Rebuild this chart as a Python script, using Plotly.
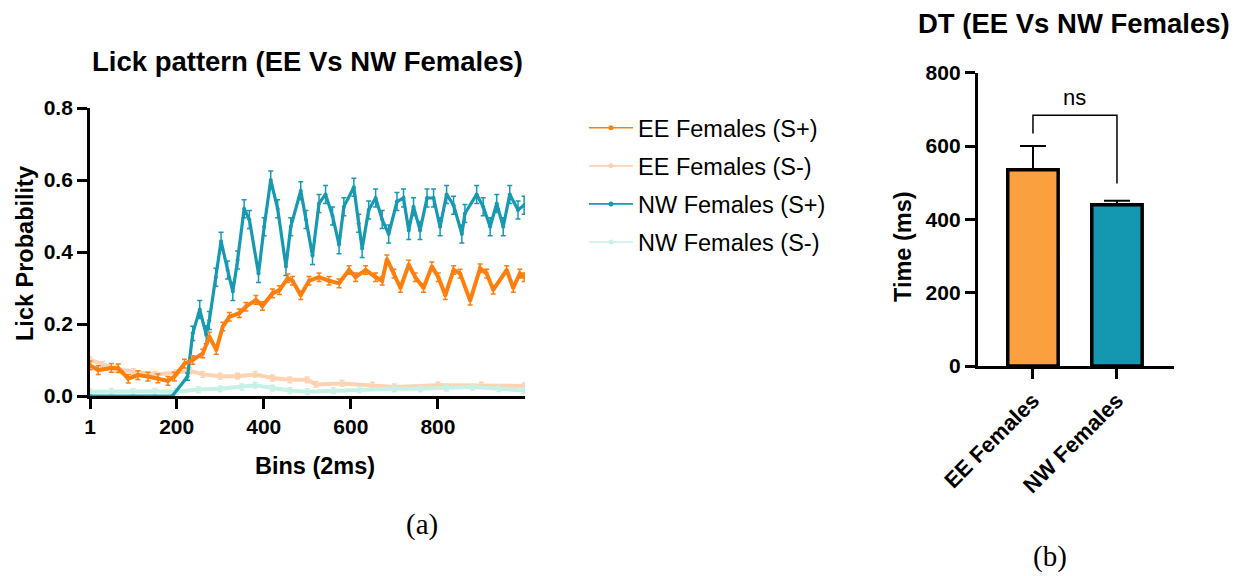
import plotly.graph_objects as go

# ---------------- data: lick pattern ----------------
ee_sp_bins = [1, 20, 50, 66, 89, 111, 134, 157, 180, 195, 218, 237, 260, 275, 291, 306, 321, 344, 359, 382,
              397, 420, 436, 455, 466, 485, 504, 527, 550, 573, 596, 611, 634, 657, 672, 683, 699, 714, 733,
              748, 767, 786, 801, 817, 836, 851, 874, 897, 912, 927, 958, 973, 988, 998]
ee_sp_vals = [0.085, 0.072, 0.078, 0.077, 0.048, 0.058, 0.054, 0.049, 0.042, 0.054, 0.09, 0.1, 0.118, 0.165,
              0.128, 0.193, 0.22, 0.23, 0.248, 0.267, 0.25, 0.285, 0.294, 0.327, 0.32, 0.28, 0.32, 0.33, 0.32,
              0.313, 0.35, 0.33, 0.35, 0.33, 0.32, 0.38, 0.34, 0.3, 0.365, 0.33, 0.3, 0.36, 0.33, 0.28, 0.35,
              0.34, 0.265, 0.355, 0.34, 0.295, 0.35, 0.3, 0.34, 0.33]
ee_sp_err = 0.012

ee_sm_bins = [1, 30, 60, 100, 150, 200, 230, 260, 300, 340, 380, 420, 460, 500, 520, 580, 650, 700, 800, 900, 998]
ee_sm_vals = [0.1, 0.088, 0.075, 0.068, 0.06, 0.065, 0.07, 0.06, 0.055, 0.055, 0.06, 0.05, 0.045, 0.045,
              0.032, 0.035, 0.03, 0.025, 0.03, 0.03, 0.028]
ee_sm_err = 0.008

nw_sp_bins = [1, 190, 225, 237, 253, 268, 275, 290, 302, 317, 329, 340, 355, 367, 388, 401, 416, 432, 451, 462,
              485, 497, 512, 527, 542, 558, 573, 584, 607, 618, 626, 641, 657, 672, 687, 706, 721, 733, 744,
              759, 775, 790, 805, 820, 836, 855, 862, 889, 904, 920, 935, 950, 965, 984, 998]
nw_sp_vals = [0.0, 0.0, 0.054, 0.174, 0.24, 0.17, 0.21, 0.33, 0.43, 0.35, 0.29, 0.378, 0.52, 0.49, 0.34, 0.47,
              0.6, 0.52, 0.36, 0.47, 0.57, 0.49, 0.39, 0.535, 0.56, 0.5, 0.42, 0.526, 0.58, 0.48, 0.41, 0.517,
              0.55, 0.49, 0.45, 0.54, 0.55, 0.46, 0.526, 0.46, 0.55, 0.55, 0.47, 0.56, 0.53, 0.45, 0.507, 0.56,
              0.526, 0.47, 0.535, 0.47, 0.56, 0.517, 0.53]
nw_sp_err = [0.0, 0.0, 0.01, 0.02, 0.025, 0.025, 0.025, 0.025, 0.025, 0.025, 0.025, 0.025, 0.025, 0.025,
             0.025, 0.025, 0.025, 0.025, 0.025, 0.025, 0.025, 0.025, 0.025, 0.025, 0.025, 0.025, 0.025, 0.025,
             0.025, 0.025, 0.025, 0.025, 0.025, 0.025, 0.025, 0.025, 0.025, 0.025, 0.025, 0.025, 0.025, 0.025,
             0.025, 0.025, 0.025, 0.025, 0.025, 0.025, 0.025, 0.025, 0.025, 0.025, 0.025, 0.025, 0.025]

nw_sm_bins = [1, 50, 100, 150, 200, 250, 300, 350, 380, 420, 460, 500, 560, 620, 700, 760, 820, 880, 940, 998]
nw_sm_vals = [0.012, 0.013, 0.012, 0.013, 0.012, 0.018, 0.02, 0.025, 0.03, 0.022, 0.015, 0.012, 0.015,
              0.018, 0.02, 0.02, 0.022, 0.025, 0.02, 0.015]
nw_sm_err = 0.008

series_names = ["EE Females (S+)", "EE Females (S-)", "NW Females (S+)", "NW Females (S-)"]

x_tickvals = [1, 200, 400, 600, 800]
y_tickvals = [0.0, 0.2, 0.4, 0.6, 0.8]
y_ticktext = ["0.0", "0.2", "0.4", "0.6", "0.8"]

# ---------------- data: DT bars ----------------
groups = ["EE Females", "NW Females"]
dt_means = [535, 440]
dt_sem = [65, 11]
dt_ticks = [0, 200, 400, 600, 800]
bracket_left, bracket_top, bracket_right = 634, 684, 498
sig_label = "ns"

C_EE_SP = "#FF7F0E"
C_EE_SM = "#FDD3B2"
C_NW_SP = "#1799B2"
C_NW_SM = "#C6F1E6"
SERIES_COLORS = [C_EE_SP, C_EE_SM, C_NW_SP, C_NW_SM]
BAR_COLORS = ["#FBA03E", "#1497B1"]

FONT = "Liberation Sans"
TICKFONT = dict(family=FONT, size=21, color="black", weight="bold")
TITLEFONT = dict(family=FONT, size=23.5, color="black", weight="bold")
HEADFONT = dict(family=FONT, size=27.5, color="black", weight="bold")

# the page body adds an 8px offset; the figure fills the rest of the window
OFF = 8
FW, FH = 1240, 568


def px(x):
    return (x - OFF) / FW


def py(y):
    return 1 - (y - OFF) / FH


fig = go.Figure()


def line_trace(name, xs, ys, err, color, width):
    if isinstance(err, list):
        ey = dict(type="data", array=err, visible=True, color=color, thickness=1.5, width=2.5)
    else:
        ey = dict(type="constant", value=err, visible=True, color=color, thickness=1.5, width=2.5)
    return go.Scatter(x=xs, y=ys, name=name, mode="lines+markers",
                      line=dict(color=color, width=width),
                      marker=dict(color=color, size=4),
                      error_y=ey, showlegend=False,
                      xaxis="x", yaxis="y")


# draw order: S- first (underneath)
fig.add_trace(line_trace(series_names[1], ee_sm_bins, ee_sm_vals, ee_sm_err, C_EE_SM, 4))
fig.add_trace(line_trace(series_names[3], nw_sm_bins, nw_sm_vals, nw_sm_err, C_NW_SM, 4))
fig.add_trace(line_trace(series_names[2], nw_sp_bins, nw_sp_vals, nw_sp_err, C_NW_SP, 3.2))
fig.add_trace(line_trace(series_names[0], ee_sp_bins, ee_sp_vals, ee_sp_err, C_EE_SP, 4))

# legend entries (thin line with a dot, as in the original legend)
for i, (nm, col) in enumerate(zip(series_names, SERIES_COLORS)):
    fig.add_trace(go.Scatter(x=[None], y=[None], name=nm, mode="lines+markers",
                             line=dict(color=col, width=1.6), marker=dict(color=col, size=5),
                             legendgroup=nm, legendrank=i + 1, xaxis="x", yaxis="y"))

fig.add_trace(go.Bar(x=groups, y=dt_means, width=0.6,
                     marker=dict(color=BAR_COLORS, line=dict(color="black", width=3.5)),
                     error_y=dict(type="data", array=dt_sem, arrayminus=[0, 0], symmetric=False,
                                  color="black", thickness=2, width=13),
                     showlegend=False, xaxis="x2", yaxis="y2"))

axis_common = dict(showline=True, linecolor="black", linewidth=2.8, ticks="outside",
                   tickwidth=2.8, tickcolor="black", showgrid=False, zeroline=False,
                   tickfont=TICKFONT, automargin=False, ticklen=10)


def note(text, x, y, font, **kw):
    return dict(text=text, x=px(x), y=py(y), xref="paper", yref="paper", xanchor="center",
                yanchor="middle", showarrow=False, font=font, **kw)


fig.update_layout(
    width=FW, height=FH,
    margin=dict(l=0, r=0, t=0, b=0, autoexpand=False),
    paper_bgcolor="white", plot_bgcolor="white",
    showlegend=True,
    legend=dict(x=px(584), y=py(106), xanchor="left", yanchor="top",
                font=dict(family=FONT, size=23.5, color="black"),
                tracegroupgap=4.5, itemwidth=44, bgcolor="rgba(0,0,0,0)"),
    xaxis=dict(domain=[px(90), px(525)], range=[1, 1000], tickvals=x_tickvals,
               anchor="y", **axis_common),
    yaxis=dict(domain=[py(396), py(108)], range=[0, 0.8], tickvals=y_tickvals, ticktext=y_ticktext,
               anchor="x", **axis_common),
    xaxis2=dict(domain=[px(977.7), px(1174)], range=[-0.658, 1.679], type="category",
                tickangle=-45, anchor="y2", **{**axis_common, "tickfont": dict(TICKFONT, size=22)}),
    yaxis2=dict(domain=[py(366), py(72.7)], range=[0, 800], tickvals=dt_ticks,
                anchor="x2", **axis_common),
    shapes=[dict(type="path", xref="x2", yref="y2",
                 path=f"M 0 {bracket_left} L 0 {bracket_top} L 1 {bracket_top} L 1 {bracket_right}",
                 line=dict(color="black", width=1.5))],
    annotations=[
        note("Lick pattern (EE Vs NW Females)", 307.5, 62, HEADFONT),
        note("DT (EE Vs NW Females)", 1074, 24, HEADFONT),
        note("Lick Probability", 25, 254, TITLEFONT, textangle=-90),
        note("Bins (2ms)", 315, 466, TITLEFONT),
        note("Time (ms)", 903, 247, TITLEFONT, textangle=-90),
        dict(text=sig_label, x=0.5, y=bracket_top + 8, xref="x2", yref="y2", yanchor="bottom",
             xanchor="center", showarrow=False, font=dict(family=FONT, size=22, color="black")),
        note("(a)", 422, 524, dict(family="Liberation Serif", size=29, color="black")),
        note("(b)", 1050, 556, dict(family="Liberation Serif", size=29, color="black")),
    ],
)

fig.write_html("out.html")
